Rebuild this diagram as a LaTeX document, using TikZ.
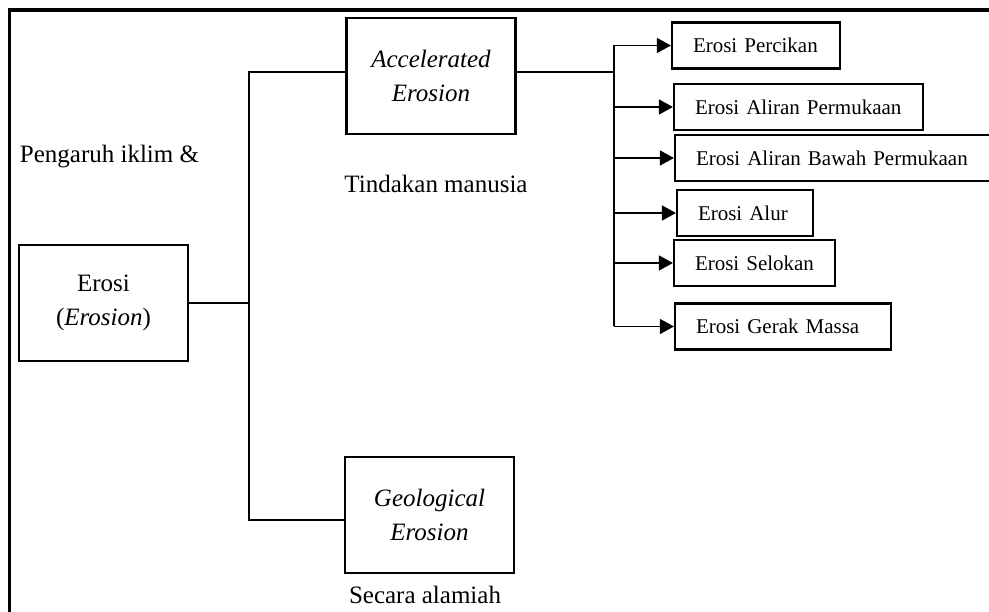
\documentclass[tikz,border=0pt]{standalone}
\usepackage{fontspec}
\setmainfont{Liberation Serif}
\usetikzlibrary{arrows.meta}

\begin{document}
\begin{tikzpicture}[x=1pt,y=-1pt,
 bigbox/.style={draw,line width=2.2pt,minimum width=169pt,minimum height=116pt,inner sep=0pt,align=center,font=\fontsize{25}{34}\selectfont},
 leaf/.style={draw,line width=2.2pt,minimum height=46pt,inner xsep=21pt,inner ysep=0pt,align=left,font=\fontsize{21}{25}\selectfont},
 note/.style={anchor=base,inner sep=0pt,font=\fontsize{25}{30}\selectfont},
 link/.style={line width=1.5pt},
 arrow/.style={-{Triangle[length=14pt,width=15pt]},line width=1.5pt}
]
\useasboundingbox (0,0) rectangle (989,612);
\clip (0,0) rectangle (989,612);
\draw[line width=3.6pt] (9.5,10) rectangle (1010,630);

\node[bigbox] (erosi) at (103.5,303) {Erosi\\(\textit{Erosion})};
\node[bigbox] (acc) at (431,76) {\textit{Accelerated}\\\textit{Erosion}};
\node[bigbox] (geo) at (429.5,515) {\textit{Geological}\\\textit{Erosion}};
\node[note] (iklim) at (109.5,163) {Pengaruh iklim \&};
\node[note] (manusia) at (436,193) {Tindakan manusia};
\node[note] (alami) at (425,603) {Secara alamiah};

\coordinate (top) at (249,72);
\coordinate (bot) at (249,520);
\coordinate (spine) at (614,72);
\draw[link] (top -| acc.west) -- (top) -- (bot) -- (bot -| geo.west);
\draw[link] (erosi.east) -- (erosi.east -| top);
\draw[link] (spine -| acc.east) -- (spine);

\node[leaf,text width=126pt] (percikan) at (756,45.5) {Erosi Percikan};
\node[leaf,text width=207pt] (permukaan) at (798.5,107) {Erosi Aliran Permukaan};
\node[leaf,text width=292pt] (bawah) at (842,158) {Erosi Aliran Bawah Permukaan};
\node[leaf,text width=94pt] (alur) at (745,213) {Erosi Alur};
\node[leaf,text width=119pt] (selokan) at (754.5,263) {Erosi Selokan};
\node[leaf,text width=174pt] (massa) at (783,326.5) {Erosi Gerak Massa};

\draw[link] (percikan.west -| spine) -- (massa.west -| spine);
\draw[arrow] (percikan.west -| spine) -- (percikan.west);
\draw[arrow] (permukaan.west -| spine) -- (permukaan.west);
\draw[arrow] (bawah.west -| spine) -- (bawah.west);
\draw[arrow] (alur.west -| spine) -- (alur.west);
\draw[arrow] (selokan.west -| spine) -- (selokan.west);
\draw[arrow] (massa.west -| spine) -- (massa.west);
\end{tikzpicture}
\end{document}
